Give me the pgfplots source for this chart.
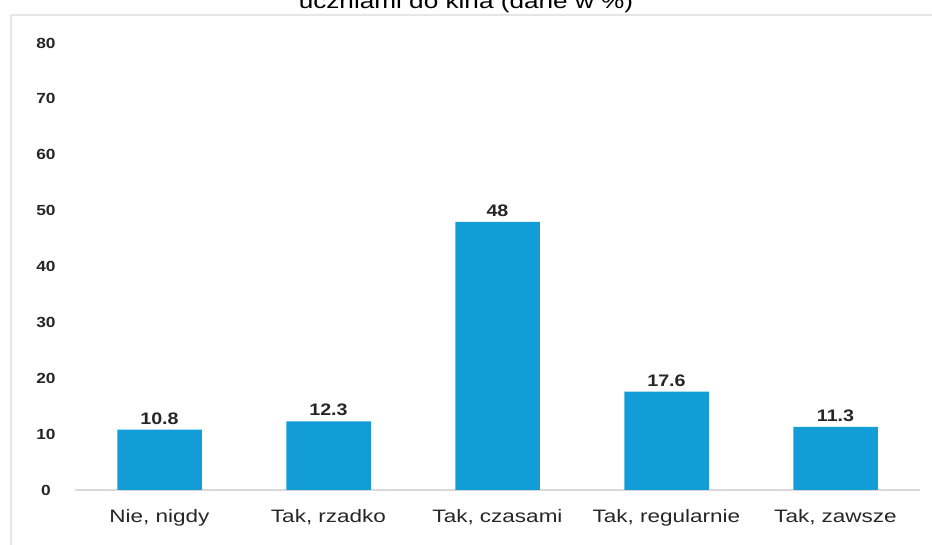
\documentclass[border=0pt]{standalone}
\usepackage{pgfplots}
\pgfplotsset{compat=1.18}
\usepackage{fontspec}
\setmainfont{Liberation Sans}
\newfontfamily\wide[FakeStretch=1.25]{Liberation Sans}
\newfontfamily\widev[FakeStretch=1.18]{Liberation Sans}
\definecolor{barblue}{HTML}{139DD6}
\definecolor{txt}{HTML}{262626}
\definecolor{framegray}{HTML}{E6E6E6}
\definecolor{axgray}{HTML}{D9D9D9}
\begin{document}
\begin{tikzpicture}[x=0.75pt,y=0.75pt]
\useasboundingbox (0,0) rectangle (932,545);
\draw[framegray, line width=0.9pt] (11,-20) -- (11,530) -- (960,530);
\node[anchor=base, font=\wide\fontsize{15.7}{18}\selectfont, text=black] at (466,536) {uczniami do kina (dane w \%)};
\begin{axis}[
  at={(56.25pt,41.25pt)}, anchor=south west,
  scale only axis,
  width=633.75pt, height=335.25pt,
  xmin=-0.5, xmax=4.5, ymin=0, ymax=80,
  axis x line*=bottom, axis y line*=left,
  x axis line style={axgray, line width=0.9pt, -},
  y axis line style={draw=none},
  xtick=data,
  xticklabels={{Nie, nigdy},{Tak, rzadko},{Tak, czasami},{Tak, regularnie},{Tak, zawsze}},
  ytick={0,10,...,80},
  major tick style={draw=none},
  ybar, bar width=0.5,
  xticklabel style={font=\wide\fontsize{13.5}{15}\selectfont, text=txt, yshift=-7pt},
  yticklabel style={font=\widev\fontsize{11}{13}\selectfont\bfseries, text=txt, anchor=center, xshift=-21.75pt},
  /pgf/number format/assume math mode=true,
  nodes near coords,
  every node near coord/.append style={font=\widev\fontsize{12.5}{14}\selectfont\bfseries, text=txt, yshift=0.5pt},
  point meta=explicit symbolic,
]
\addplot[fill=barblue, draw=none] coordinates {(0,10.8) [10.8] (1,12.3) [12.3] (2,48) [48] (3,17.6) [17.6] (4,11.3) [11.3]};
\end{axis}
\end{tikzpicture}
\end{document}
